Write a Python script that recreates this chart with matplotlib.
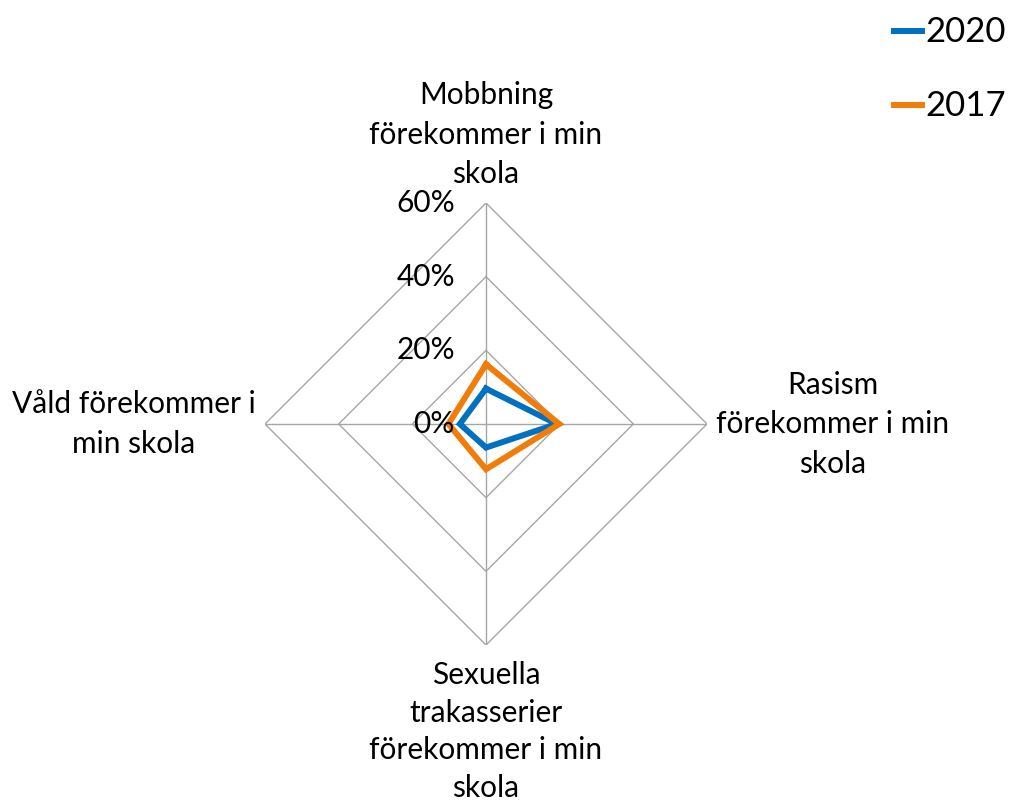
import numpy as np
import matplotlib
matplotlib.use("Agg")
import matplotlib.pyplot as plt
from matplotlib.transforms import offset_copy

plt.rcParams['font.family'] = ['Lato', 'DejaVu Sans']

categories = ["Mobbning\nförekommer i min\nskola",
              "Rasism\nförekommer i min\nskola",
              "Sexuella\ntrakasserier\nförekommer i min\nskola",
              "Våld förekommer i\nmin skola"]
series_names = ["2020", "2017"]
values_2020 = [9.6, 19.2, 6.4, 7.1]
values_2017 = [16.2, 19.9, 12.3, 10.2]
rticks = [0, 20, 40, 60]
rtick_labels = ["0%", "20%", "40%", "60%"]

colors = ["#0070C0", "#F07D0A"]
FS = 21.5

fig = plt.figure(figsize=(10.12, 8.05), dpi=100)
W, H = 1012, 805
cx, cy, R = 486, 424, 221
ax = fig.add_axes([(cx - R) / W, (H - cy - R) / H, 2 * R / W, 2 * R / H], projection='polar')
ax.set_theta_offset(np.pi / 2)
ax.set_theta_direction(-1)
ax.set_ylim(0, rticks[-1])
ax.grid(False)
ax.spines['polar'].set_visible(False)
ax.set_xticks([])
ax.set_yticks([])
ax.patch.set_alpha(0)

n = len(categories)
angles = np.arange(n) * 2 * np.pi / n
closed = np.append(angles, angles[0])

# diamond grid
for r in rticks[1:]:
    ax.plot(closed, [r] * (n + 1), color="#A6A6A6", lw=1.0, zorder=1)
for a in angles:
    ax.plot([a, a], [0, rticks[-1]], color="#A6A6A6", lw=1.0, zorder=1)

for vals, name, c in zip([values_2020, values_2017], series_names, colors):
    v = np.append(vals, vals[0])
    ax.plot(closed, v, color=c, lw=4.3, label=name, zorder=3, solid_joinstyle='miter')

# radial tick labels
for r, lab in zip(rticks, rtick_labels):
    t = offset_copy(ax.transData, fig=fig, x=-31, y=0, units='dots')
    ax.text(0, r, lab, transform=t, ha='right', va='center', fontsize=FS, zorder=4)

# category labels
offsets = [(0, 15, 'center', 'bottom', 1.5), (9, 0, 'left', 'center', 1.5),
           (0, -16, 'center', 'top', 1.42), (-9, 0, 'right', 'center', 1.5)]
for a, lab, (dx, dy, ha, va, ls) in zip(angles, categories, offsets):
    t = offset_copy(ax.transData, fig=fig, x=dx, y=dy, units='dots')
    ax.text(a, rticks[-1], lab, transform=t, ha=ha, va=va, fontsize=FS,
            multialignment='center', linespacing=ls)

fig.legend(loc='upper right', bbox_to_anchor=(1.008, 0.997), frameon=False,
           fontsize=25, handlelength=0.8, handletextpad=0.1, labelspacing=1.2,
           borderaxespad=0.0, handleheight=0.5)

fig.savefig("out.png", dpi=100)
